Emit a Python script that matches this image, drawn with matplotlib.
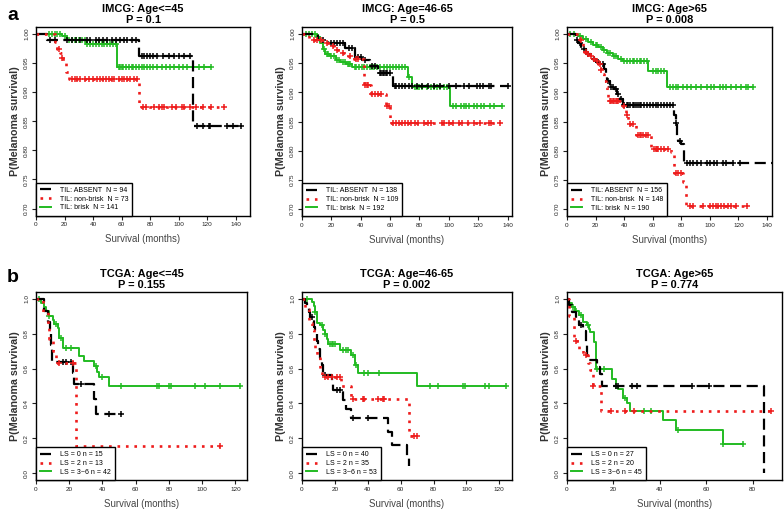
import numpy as np
import matplotlib
matplotlib.use("Agg")
import matplotlib.pyplot as plt
from matplotlib.lines import Line2D

plt.rcParams['font.family'] = ['Liberation Sans', 'DejaVu Sans']

# ---- panel a: IMCG ----
# Age<=45
a1_absent_t = [8, 72, 110]
a1_absent_s = [0.989, 0.963, 0.842]
a1_absent_c = [10, 13, 22, 25, 28, 31, 36, 38, 42, 44, 47, 50, 53, 56, 59, 62, 64, 67, 70,
               74, 76, 78, 80, 82, 85, 89, 93, 97, 100, 104, 108, 113, 117, 121, 122, 134, 138, 144]
a1_nonbrisk_t = [13, 15, 17, 18, 19, 21, 23, 72]
a1_nonbrisk_s = [0.986, 0.975, 0.968, 0.958, 0.95, 0.935, 0.922, 0.874]
a1_nonbrisk_c = [16, 18, 25, 27, 29, 31, 34, 37, 40, 43, 45, 47, 49, 51, 53, 55, 58, 60, 62, 64, 66,
                 69, 71, 75, 77, 83, 86, 88, 90, 95, 98, 102, 104, 108, 112, 117, 123, 132]
a1_brisk_t = [18, 22, 35, 57]
a1_brisk_s = [0.996, 0.99, 0.982, 0.943]
a1_brisk_c = [9, 11, 13, 15, 17, 20, 23, 25, 27, 28, 30, 32, 34, 36, 38, 40, 42, 44, 46, 48, 50, 52,
              54, 56, 58, 59, 60, 61, 63, 65, 67, 68, 70, 72, 74, 76, 78, 80, 82, 85, 88, 91, 94, 97,
              100, 103, 106, 110, 114, 118, 123]

# Age=46-65
a2_absent_t = [11, 18, 29, 36, 41, 46, 52, 62]
a2_absent_s = [0.99, 0.984, 0.976, 0.96, 0.955, 0.946, 0.933, 0.911]
a2_absent_c = [14, 20, 22, 24, 26, 28, 32, 34, 38, 40, 43, 48, 50, 53, 54, 55, 56, 57, 58, 60, 63, 64,
               66, 68, 70, 73, 75, 78, 82, 86, 90, 94, 100, 105, 110, 114, 119, 121, 123, 127, 129, 140]
a2_nonbrisk_t = [5, 15, 19, 22, 27, 31, 35, 42, 47, 57, 60]
a2_nonbrisk_s = [0.99, 0.985, 0.979, 0.973, 0.968, 0.962, 0.957, 0.913, 0.897, 0.876, 0.848]
a2_nonbrisk_c = [8, 10, 13, 17, 21, 24, 28, 33, 37, 38, 43, 44, 45, 48, 50, 52, 54, 58, 59, 62, 64, 66,
                 68, 70, 72, 74, 77, 79, 83, 86, 88, 95, 97, 100, 103, 107, 109, 113, 117, 121, 127,
                 129, 135]
a2_brisk_t = [10, 12, 14, 16, 19, 23, 26, 30, 34, 72, 75, 101]
a2_brisk_s = [0.995, 0.985, 0.975, 0.966, 0.962, 0.956, 0.952, 0.948, 0.944, 0.927, 0.91, 0.877]
a2_brisk_c = [3, 5, 7, 9, 11, 15, 17, 18, 20, 22, 24, 25, 28, 29, 31, 32, 33, 36, 37, 39, 41, 42, 44,
              46, 48, 49, 51, 53, 56, 58, 60, 62, 64, 66, 68, 70, 73, 77, 78, 80, 82, 85, 88, 90, 92,
              94, 97, 99, 103, 105, 108, 110, 112, 114, 117, 119, 122, 124, 128, 131, 136]

# Age>65
a3_absent_t = [6, 8, 10, 13, 17, 20, 24, 26, 27, 28, 30, 33, 35, 37, 39, 75, 76, 77, 78, 80, 82]
a3_absent_s = [0.99, 0.984, 0.975, 0.966, 0.958, 0.952, 0.948, 0.94, 0.929, 0.919, 0.909, 0.905,
               0.897, 0.889, 0.879, 0.861, 0.847, 0.826, 0.816, 0.812, 0.778]
a3_absent_c = [7, 9, 12, 15, 19, 22, 25, 29, 31, 32, 34, 36, 38, 40, 42, 43, 44, 46, 47, 48, 50, 51,
               52, 54, 56, 58, 60, 62, 64, 66, 68, 70, 72, 74, 76, 79, 84, 86, 88, 91, 94, 98, 100,
               103, 105, 109, 111, 116, 121, 145]
a3_nonbrisk_t = [9, 11, 12, 14, 16, 18, 20, 22, 24, 25, 26, 27, 28, 29, 38, 41, 43, 48, 59, 73, 75,
                 81, 83]
a3_nonbrisk_s = [0.99, 0.98, 0.97, 0.965, 0.962, 0.958, 0.953, 0.948, 0.939, 0.931, 0.919, 0.91,
                 0.9, 0.886, 0.877, 0.861, 0.845, 0.827, 0.803, 0.798, 0.761, 0.747, 0.706]
a3_nonbrisk_c = [10, 13, 15, 17, 19, 21, 23, 24, 30, 31, 32, 33, 34, 35, 36, 40, 42, 44, 46, 50, 51,
                 52, 53, 55, 57, 61, 62, 63, 64, 66, 68, 71, 76, 78, 80, 86, 88, 95, 100, 102, 104,
                 106, 108, 110, 113, 115, 118, 126]
a3_brisk_t = [8, 11, 15, 18, 22, 25, 28, 32, 36, 39, 57, 70]
a3_brisk_s = [0.996, 0.991, 0.987, 0.982, 0.977, 0.972, 0.967, 0.962, 0.957, 0.953, 0.936, 0.909]
a3_brisk_c = [2, 5, 9, 13, 17, 20, 21, 24, 26, 29, 30, 33, 34, 38, 40, 42, 44, 46, 47, 49, 51, 52,
              54, 56, 60, 62, 64, 66, 68, 72, 74, 76, 78, 81, 84, 87, 90, 94, 98, 101, 103, 107, 109,
              111, 115, 118, 122, 125, 127, 130]

# ---- panel b: TCGA ----
# Age<=45
b1_ls0_t = [5, 7.5, 8.5, 9, 9.5, 22, 23, 35, 36]
b1_ls0_s = [0.933, 0.867, 0.80, 0.733, 0.638, 0.575, 0.511, 0.426, 0.341]
b1_ls0_c = [16, 18, 21, 27, 44, 51]
b1_ls2_t = [4, 7, 8, 10, 12, 24]
b1_ls2_s = [0.923, 0.846, 0.769, 0.70, 0.632, 0.158]
b1_ls2_c = [14, 22, 111]
b1_ls36_t = [3, 5, 6, 8, 10, 11, 13, 14, 16, 26, 29, 35, 37, 38, 44]
b1_ls36_s = [0.976, 0.952, 0.929, 0.905, 0.881, 0.857, 0.833, 0.776, 0.718, 0.67, 0.646, 0.613,
             0.582, 0.552, 0.50]
b1_ls36_c = [2, 8, 12, 15, 18, 21, 36, 40, 51, 73, 74, 80, 81, 96, 102, 111, 123]

# Age=46-65
b2_ls0_t = [2, 3, 4, 5, 7, 8, 9, 10, 11, 12, 13, 18, 19, 25, 27, 30, 52, 55, 64, 65]
b2_ls0_s = [0.974, 0.948, 0.923, 0.897, 0.84, 0.80, 0.76, 0.71, 0.66, 0.62, 0.565, 0.52, 0.475,
            0.42, 0.37, 0.316, 0.237, 0.159, 0.10, 0.038]
b2_ls0_c = [6, 14, 21, 23, 31, 40]
b2_ls2_t = [2, 4, 6, 7, 8, 9, 11, 12, 24, 30, 65]
b2_ls2_s = [0.943, 0.862, 0.82, 0.76, 0.70, 0.66, 0.60, 0.552, 0.498, 0.425, 0.212]
b2_ls2_c = [14, 16, 18, 21, 23, 31, 37, 38, 46, 49, 50, 68, 70]
b2_ls36_t = [6, 7, 8, 9, 11, 13, 14, 15, 16, 23, 30, 32, 34, 70]
b2_ls36_s = [0.981, 0.962, 0.925, 0.86, 0.85, 0.82, 0.80, 0.77, 0.74, 0.709, 0.68, 0.623, 0.575, 0.502]
b2_ls36_c = [3, 8, 12, 14, 17, 18, 19, 20, 25, 27, 28, 31, 33, 38, 40, 47, 78, 83, 98, 99, 111, 114, 124]

# Age>65
b3_ls0_t = [1, 2, 4, 5, 7, 8, 8.5, 13, 14, 15, 85]
b3_ls0_s = [0.963, 0.926, 0.889, 0.852, 0.815, 0.74, 0.65, 0.61, 0.57, 0.50, 0.0]
b3_ls0_c = [6, 21, 22, 28, 30, 54, 61]
b3_ls2_t = [1, 3, 5, 7, 9, 10, 11, 14.5]
b3_ls2_s = [0.90, 0.76, 0.71, 0.68, 0.635, 0.59, 0.50, 0.355]
b3_ls2_c = [4, 8, 11, 19, 25, 29, 88]
b3_ls36_t = [1, 2, 3.5, 5, 7, 8.5, 9.5, 10, 11.5, 12.5, 19.5, 21, 22, 24, 26, 27, 41.5, 47, 67]
b3_ls36_s = [0.977, 0.955, 0.932, 0.91, 0.87, 0.85, 0.83, 0.81, 0.75, 0.60, 0.54, 0.50, 0.48, 0.43,
             0.40, 0.357, 0.306, 0.245, 0.167]
b3_ls36_c = [2.5, 4, 6, 9, 13, 16, 21, 25, 33, 36, 48, 67, 76]

titles = ["IMCG: Age<=45\nP = 0.1", "IMCG: Age=46-65\nP = 0.5", "IMCG: Age>65\nP = 0.008",
          "TCGA: Age<=45\nP = 0.155", "TCGA: Age=46-65\nP = 0.002", "TCGA: Age>65\nP = 0.774"]
legend_a = [["TIL: ABSENT  N = 94", "TIL: non-brisk  N = 73", "TIL: brisk  N = 141"],
            ["TIL: ABSENT  N = 138", "TIL: non-brisk  N = 109", "TIL: brisk  N = 192"],
            ["TIL: ABSENT  N = 156", "TIL: non-brisk  N = 148", "TIL: brisk  N = 190"]]
legend_b = [["LS = 0 n = 15", "LS = 2 n = 13", "LS = 3~6 n = 42"],
            ["LS = 0 n = 40", "LS = 2 n = 35", "LS = 3~6 n = 53"],
            ["LS = 0 n = 27", "LS = 2 n = 20", "LS = 3~6 n = 45"]]

colors = ['black', '#ee1c1c', '#22bb22']
styles = [dict(dashes=(5, 2.5), lw=1.6), dict(dashes=(1, 2.2), lw=1.9), dict(lw=1.4)]

W, H = 784, 519
fig = plt.figure(figsize=(W / 100, H / 100), dpi=100)


def add_ax(l, r, t, b):
    return fig.add_axes([l / W, 1 - b / H, (r - l) / W, (b - t) / H])


def km(ax, t, s, c, color, style):
    t = np.array(t, float)
    vals = np.r_[1.0, s]
    end = max(max(c), t.max())
    x = np.r_[0, t, end]
    y = np.r_[vals, vals[-1]]
    ax.step(x, y, where='post', color=color, solid_capstyle='butt', dash_capstyle='butt', **style)
    cy = vals[np.searchsorted(t, c, side='right')]
    ax.plot(c, cy, ls='none', marker='+', ms=4.8, mew=1.1, color=color)


def style_ax(ax, title, xlim, ylim, yticks, yfmt, xticks, labels):
    ax.set_xlim(*xlim)
    ax.set_ylim(*ylim)
    ax.set_xticks(xticks)
    ax.set_yticks(yticks)
    ax.set_yticklabels([yfmt % v for v in yticks], rotation=90, va='center')
    ax.tick_params(labelsize=4.6, length=3, width=0.8, pad=2, colors='#222222')
    for sp in ax.spines.values():
        sp.set_linewidth(1.0)
    ax.set_title(title, fontsize=7.9, fontweight='bold', pad=3, linespacing=1.12)
    ax.set_xlabel("Survival (months)", fontsize=6.9, color='#444444', labelpad=5)
    ax.set_ylabel("P(Melanoma survival)", fontsize=7.7, fontweight='bold', color='#333333', labelpad=3)
    handles = [Line2D([], [], color=colors[i], **styles[i]) for i in range(3)]
    leg = ax.legend(handles, labels, loc='lower left', borderaxespad=0, fontsize=5.0,
                    fancybox=False, framealpha=1, edgecolor='black', handlelength=1.6,
                    handletextpad=1.2, borderpad=0.6, labelspacing=0.25)
    leg.get_frame().set_linewidth(1.0)


top_boxes = [(36, 250, 27, 215.5), (302, 512, 27, 216), (567, 772, 27, 216)]
bot_boxes = [(36, 247, 292, 480), (302, 512, 292, 480), (567, 782, 292, 480)]
top_xlim = [(0, 150), (0, 143), (0, 143.5)]
bot_xlim = [(0, 127), (0, 127.7), (0, 92.6)]

top_data = [
    [(a1_absent_t, a1_absent_s, a1_absent_c), (a1_nonbrisk_t, a1_nonbrisk_s, a1_nonbrisk_c),
     (a1_brisk_t, a1_brisk_s, a1_brisk_c)],
    [(a2_absent_t, a2_absent_s, a2_absent_c), (a2_nonbrisk_t, a2_nonbrisk_s, a2_nonbrisk_c),
     (a2_brisk_t, a2_brisk_s, a2_brisk_c)],
    [(a3_absent_t, a3_absent_s, a3_absent_c), (a3_nonbrisk_t, a3_nonbrisk_s, a3_nonbrisk_c),
     (a3_brisk_t, a3_brisk_s, a3_brisk_c)],
]
bot_data = [
    [(b1_ls0_t, b1_ls0_s, b1_ls0_c), (b1_ls2_t, b1_ls2_s, b1_ls2_c), (b1_ls36_t, b1_ls36_s, b1_ls36_c)],
    [(b2_ls0_t, b2_ls0_s, b2_ls0_c), (b2_ls2_t, b2_ls2_s, b2_ls2_c), (b2_ls36_t, b2_ls36_s, b2_ls36_c)],
    [(b3_ls0_t, b3_ls0_s, b3_ls0_c), (b3_ls2_t, b3_ls2_s, b3_ls2_c), (b3_ls36_t, b3_ls36_s, b3_ls36_c)],
]

for i in range(3):
    ax = add_ax(*top_boxes[i])
    for g in (2, 0, 1):
        km(ax, *top_data[i][g], colors[g], styles[g])
    style_ax(ax, titles[i], top_xlim[i], (0.688, 1.012), [0.70, 0.75, 0.80, 0.85, 0.90, 0.95, 1.00],
             "%.2f", range(0, 141, 20), legend_a[i])

for i in range(3):
    ax = add_ax(*bot_boxes[i])
    for g in (2, 0, 1):
        km(ax, *bot_data[i][g], colors[g], styles[g])
    xt = range(0, 81, 20) if i == 2 else range(0, 121, 20)
    style_ax(ax, titles[3 + i], bot_xlim[i], (-0.04, 1.04), [0.0, 0.2, 0.4, 0.6, 0.8, 1.0],
             "%.1f", xt, legend_b[i])

fig.text(7 / W, 1 - 15 / H, "a", fontsize=14, fontweight='bold', va='center', ha='left')
fig.text(7 / W, 1 - 278 / H, "b", fontsize=14, fontweight='bold', va='center', ha='left')

fig.savefig("out.png", dpi=100)
